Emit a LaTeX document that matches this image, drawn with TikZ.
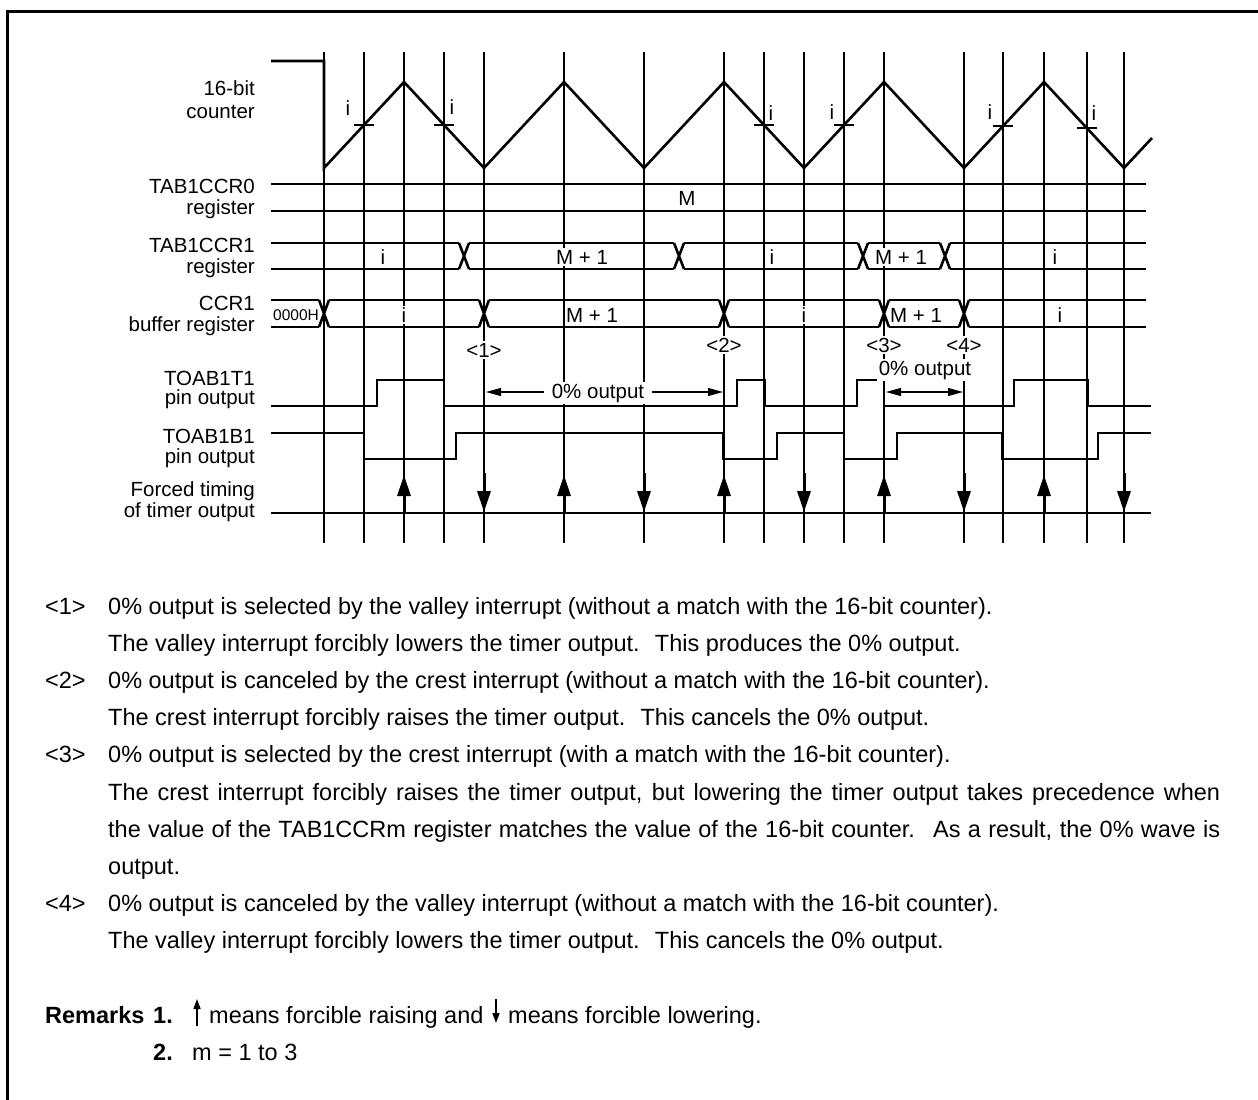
\documentclass[tikz,border=0pt]{standalone}
\usepackage{fontspec}
\setmainfont{Liberation Sans}
\usepackage{tikz}
\usetikzlibrary{positioning, arrows.meta, calc}

\tikzset{
	sigline/.style={line width=2.6pt, line join=miter},
	gridline/.style={line width=1.2pt}
}
\tikzset{
	signame/.style={font=\fontsize{20.5}{22}\selectfont, inner sep=0pt, anchor=base east}
}
\tikzset{
	bustext/.style={font=\fontsize{20.5}{22}\selectfont, fill=white, inner sep=1.5pt, anchor=base}
}
\tikzset{
	evlabel/.style={font=\fontsize{20.5}{22}\selectfont, fill=white, inner sep=2pt, anchor=base}
}
\tikzset{
	notetext/.style={font=\fontsize{23.5}{26}\selectfont, inner sep=0pt, anchor=base west}
}
\tikzset{
	zeroarrow/.style={line width=1.2pt, -{Triangle[length=15pt,width=8pt]}},
	forcearrow/.style={line width=3pt, -{Triangle[length=21pt,width=13pt]}}
}
\tikzset{
	buscross/.pic={
			\draw[sigline] (-5,-#1) -- (5,#1) (-5,#1) -- (5,-#1);
		}
}

\begin{document}
\begin{tikzpicture}[x=1pt, y=-1pt]
\useasboundingbox (0,0) rectangle (1258,1100);
\draw[line width=3pt] (7,1100) -- (7,11) -- (1258,11);

\foreach \gx in {324,364,404,444,484,564,644,724,764,804,844,884,964,1003,1044,1087,1124}
	\draw[gridline] (\gx,52) -- (\gx,543);

\node[signame] (nCntA) at (255,95) {16-bit};
\node[signame] (nCntB) at (255,118) {counter};
\node[signame] (nRzA) at (255,193) {TAB1CCR0};
\node[signame] (nRzB) at (255,214) {register};
\node[signame] (nRoA) at (255,252) {TAB1CCR1};
\node[signame] (nRoB) at (255,273) {register};
\node[signame] (nBfA) at (255,310) {CCR1};
\node[signame] (nBfB) at (255,331) {buffer register};
\node[signame] (nTtA) at (255,385) {TOAB1T1};
\node[signame] (nTtB) at (255,404) {pin output};
\node[signame] (nTbA) at (255,443) {TOAB1B1};
\node[signame] (nTbB) at (255,463) {pin output};
\node[signame] (nFoA) at (255,496) {Forced timing};
\node[signame] (nFoB) at (255,517) {of timer output};

% counter
\draw[sigline] (271,61) -- (324,61) -- (324,168) -- (404,82) -- (484,168) -- (564,82)
	-- (644,168) -- (724,82) -- (804,168) -- (884,82) -- (964,168) -- (1044,82)
	-- (1124,168) -- (1152,138);
\foreach \tx/\ty in {364/125,444/125,764/125,844/125,1003/126,1087/128}
	\draw[gridline] ({\tx-10},\ty) -- ({\tx+10},\ty);
\node[bustext, anchor=center, fill=none] (iA) at (348,108) {i};
\node[bustext, anchor=center, fill=none] (iB) at (452,107) {i};
\node[bustext, anchor=center, fill=none] (iC) at (771,113) {i};
\node[bustext, anchor=center, fill=none] (iD) at (832,112) {i};
\node[bustext, anchor=center, fill=none] (iE) at (990,112) {i};
\node[bustext, anchor=center, fill=none] (iF) at (1094,113) {i};

% TAB1CCR0
\draw[sigline] (271,184) -- (1146,184) (271,211) -- (1146,211);
\node[bustext] (vRz) at (687,205) {M};

% TAB1CCR1
\foreach \xa/\xb in {271/459,469/674,684/858,868/940,950/1146}
	\draw[sigline] (\xa,243) -- (\xb,243) (\xa,269) -- (\xb,269);
\foreach \cx in {464,679,863,945}
	\pic at (\cx,256) {buscross=13};
\node[bustext] (vRoA) at (383,264) {i};
\node[bustext] (vRoB) at (582,264) {M + 1};
\node[bustext] (vRoC) at (772,264) {i};
\node[bustext] (vRoD) at (901,264) {M + 1};
\node[bustext] (vRoE) at (1055,264) {i};

% CCR1 buffer
\foreach \xa/\xb in {271/319,329/479,489/719,729/879,889/959,969/1146}
	\draw[sigline] (\xa,300) -- (\xb,300) (\xa,327) -- (\xb,327);
\foreach \cx in {324,484,724,884,964}
	\pic at (\cx,313.5) {buscross=13.5};
\node[bustext, font=\fontsize{15.5}{17}\selectfont, fill=none] (vBfA) at (296,320) {0000H};
\node[bustext] (vBfB) at (404,322) {i};
\node[bustext] (vBfC) at (592,322) {M + 1};
\node[bustext] (vBfD) at (804,322) {i};
\node[bustext] (vBfE) at (916,322) {M + 1};
\node[bustext] (vBfF) at (1060,322) {i};

\node[evlabel] (ev1) at (484,357) {<1>};
\node[evlabel] (ev2) at (724,352) {<2>};
\node[evlabel] (ev3) at (884,352) {<3>};
\node[evlabel] (ev4) at (964,352) {<4>};

% TOAB1T1
\draw[sigline] (271,406) -- (377,406) -- (377,380) -- (444,380) -- (444,406) -- (737,406)
	-- (737,380) -- (765,380) -- (765,406) -- (857,406) -- (857,380) -- (884,380)
	-- (884,406) -- (1014,406) -- (1014,380) -- (1088,380) -- (1088,406) -- (1151,406);
% TOAB1B1
\draw[sigline] (271,433) -- (364,433) -- (364,459) -- (456,459) -- (456,433) -- (723,433)
	-- (723,459) -- (777,459) -- (777,433) -- (844,433) -- (844,459) -- (897,459)
	-- (897,433) -- (1002,433) -- (1002,459) -- (1098,459) -- (1098,433) -- (1151,433);

\node[evlabel, inner xsep=8pt] (zoA) at (598,398) {0\% output};
\coordinate (zaL) at (486,392);
\coordinate (zaR) at (723,392);
\draw[zeroarrow] (zoA.west |- zaL) -- (zaL);
\draw[zeroarrow] (zoA.east |- zaR) -- (zaR);
\node[evlabel] (zoB) at (925,375) {0\% output};
\coordinate (zbL) at (886,392);
\coordinate (zbR) at (963,392);
\draw[zeroarrow, {Triangle[length=15pt,width=8pt]}-{Triangle[length=15pt,width=8pt]}] (zbL) -- (zbR);

% forced timing
\draw[sigline] (271,513) -- (1151,513);
\foreach \ux in {404,564,724,884,1044}
	\draw[forcearrow] (\ux,513) -- (\ux,475);
\foreach \dx in {484,644,804,964,1124}
	\draw[forcearrow] (\dx,473) -- (\dx,512);

% notes
\node[notetext] (k1) at (45,614) {<1>};
\node[notetext] (t1a) at (108,614) {0\% output is selected by the valley interrupt (without a match with the 16-bit counter).};
\node[notetext] (t1b) at (108,651.2) {The valley interrupt forcibly lowers the timer output.~ This produces the 0\% output.};
\node[notetext] (k2) at (45,688.4) {<2>};
\node[notetext] (t2a) at (108,688.4) {0\% output is canceled by the crest interrupt (without a match with the 16-bit counter).};
\node[notetext] (t2b) at (108,725.6) {The crest interrupt forcibly raises the timer output.~ This cancels the 0\% output.};
\node[notetext] (k3) at (45,762.8) {<3>};
\node[notetext] (t3a) at (108,762.8) {0\% output is selected by the crest interrupt (with a match with the 16-bit counter).};
\node[notetext] (t3b) at (108,800) {\makebox[1112pt][s]{The crest interrupt forcibly raises the timer output, but lowering the timer output takes precedence when}};
\node[notetext] (t3c) at (108,837.2) {\makebox[1112pt][s]{the value of the TAB1CCRm register matches the value of the 16-bit counter.~ As a result, the 0\% wave is}};
\node[notetext] (t3d) at (108,874.4) {output.};
\node[notetext] (k4) at (45,911.6) {<4>};
\node[notetext] (t4a) at (108,911.6) {0\% output is canceled by the valley interrupt (without a match with the 16-bit counter).};
\node[notetext] (t4b) at (108,948.8) {The valley interrupt forcibly lowers the timer output.~ This cancels the 0\% output.};

\node[notetext, font=\fontsize{23.5}{26}\selectfont\bfseries] (rm) at (45,1023.2) {Remarks};
\node[notetext, font=\fontsize{23.5}{26}\selectfont\bfseries] (rm1) at (153,1023.2) {1.};
\coordinate (upA) at (197,1026);
\coordinate (upB) at (197,999);
\draw[line width=1.6pt, -{Triangle[length=10pt,width=7pt]}] (upA) -- (upB);
\node[notetext] (rmA) at (209,1023.2) {means forcible raising and};
\coordinate (dnA) at (496,999);
\coordinate (dnB) at (496,1023);
\draw[line width=1.6pt, -{Triangle[length=10pt,width=7pt]}] (dnA) -- (dnB);
\node[notetext] (rmB) at (508,1023.2) {means forcible lowering.};
\node[notetext, font=\fontsize{23.5}{26}\selectfont\bfseries] (rm2) at (153,1060.4) {2.};
\node[notetext] (rmC) at (192,1060.4) {m = 1 to 3};

\end{tikzpicture}
\end{document}
